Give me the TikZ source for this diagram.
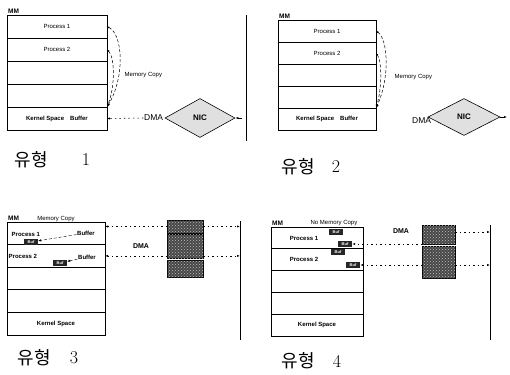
\documentclass[tikz,border=0pt]{standalone}
\usepackage{fontspec}
\setsansfont{Liberation Sans}
\newfontfamily\cjk{Noto Sans CJK KR}
\usetikzlibrary{arrows.meta,positioning,shapes.geometric,patterns}

\begin{document}
\begin{tikzpicture}[x=1pt,y=-1pt,
 row/.style 2 args={rectangle,draw,line width=0.7pt,outer sep=0pt,inner sep=0pt,minimum width=#1,minimum height=#2,font=\sffamily\fontsize{6}{7}\selectfont},
 lbl/.style={inner sep=0.5pt,font=\sffamily\fontsize{6}{7}\selectfont},
 blbl/.style={inner sep=0.5pt,font=\sffamily\bfseries\fontsize{6}{7}\selectfont},
 mmlbl/.style={inner sep=1pt,font=\sffamily\bfseries\fontsize{6.5}{7}\selectfont},
 dmal/.style={inner sep=0.5pt,font=\sffamily\fontsize{8.5}{9}\selectfont},
 nic/.style={diamond,draw,line width=0.6pt,fill=black!12,minimum width=70pt,minimum height=39pt,inner sep=0pt,font=\sffamily\bfseries\fontsize{8}{9}\selectfont},
 blk/.style={rectangle,draw=black,fill=black!72,postaction={pattern=crosshatch dots,pattern color=white!75!black},minimum width=36pt,inner sep=0pt,outer sep=0pt},
 buftag/.style={rectangle,fill=black!85,text=white,minimum width=14pt,minimum height=6pt,inner sep=0pt,font=\sffamily\bfseries\fontsize{4}{4.5}\selectfont},
 copyarr/.style={densely dashed,line width=0.5pt,{Latex[length=2.5pt]}-{Latex[length=3.5pt]}},
 dmaline/.style={dash pattern=on 1.5pt off 3pt,line width=0.6pt,-{Latex[length=3pt]}},
 arr/.style={-{Latex[length=3pt]},line width=0.6pt},
 divider/.style={line width=1pt},
 captxt/.style={inner sep=0pt,font=\cjk\fontsize{18}{19}\selectfont},
 capnum/.style={inner sep=0pt,font=\fontsize{18}{19}\selectfont}
]
\useasboundingbox (0,0) rectangle (510,374);

\node[row={100pt}{23pt},anchor=north west] (p1a) at (7,15) {Process 1};
\node[row={100pt}{23pt},below=0pt of p1a] (p1b) {Process 2};
\node[row={100pt}{23pt},below=0pt of p1b] (p1c) {};
\node[row={100pt}{23pt},below=0pt of p1c] (p1d) {};
\node[row={100pt}{23pt},below=0pt of p1d] (p1e) {\bfseries Kernel Space\hspace{6pt}Buffer};
\node[mmlbl,anchor=south west] (mm1) at (p1a.north west) {MM};
\node[lbl,anchor=west] (cp1) at (124,75) {Memory Copy};
\draw[copyarr] (p1a.east) .. controls +(16,8) and +(18,-30) .. (p1e.north east);
\draw[copyarr] (p1b.east) .. controls +(8,8) and +(8,-20) .. (p1e.north east);
\node[nic] (ni1) at (200,118) {NIC};
\node[dmal,anchor=east,xshift=-1pt] (dma1) at (ni1.west) {DMA};
\draw[dmaline] (dma1.west) -- (p1e.east);
\coordinate (in1) at (242,118);
\draw[arr] (in1) -- (ni1.east);
\coordinate (d1t) at (246,15); \coordinate (d1b) at (246,141);
\draw[divider] (d1t) -- (d1b);
\node[captxt] (t1) at (31,160) {유형};
\node[capnum] (n1) at (86,160) {1};

\node[row={98pt}{22pt},anchor=north west] (p2a) at (278,20) {Process 1};
\node[row={98pt}{22pt},below=0pt of p2a] (p2b) {Process 2};
\node[row={98pt}{22pt},below=0pt of p2b] (p2c) {};
\node[row={98pt}{22pt},below=0pt of p2c] (p2d) {};
\node[row={98pt}{22pt},below=0pt of p2d] (p2e) {\bfseries Kernel Space\hspace{6pt}Buffer};
\node[mmlbl,anchor=south west] (mm2) at (p2a.north west) {MM};
\node[lbl,anchor=west] (cp2) at (394,77) {Memory Copy};
\draw[copyarr] (p2a.east) .. controls +(12,8) and +(14,-30) .. (p2e.north east);
\draw[copyarr] (p2b.east) .. controls +(6,8) and +(6,-20) .. (p2e.north east);
\node[nic,minimum width=72pt,minimum height=37pt] (ni2) at (464,117) {NIC};
\node[dmal,anchor=east,xshift=4pt,yshift=-4pt] (dma2) at (ni2.west) {DMA};
\coordinate (out2) at (507,117);
\draw[arr] (ni2.east) -- (out2);
\node[captxt] (t2) at (298,167) {유형};
\node[capnum] (n2) at (336,167) {2};

\node[row={98pt}{22.6pt},anchor=north west] (p3a) at (7,222) {};
\node[row={98pt}{22.6pt},below=0pt of p3a] (p3b) {};
\node[row={98pt}{22.6pt},below=0pt of p3b] (p3c) {};
\node[row={98pt}{22.6pt},below=0pt of p3c] (p3d) {};
\node[row={98pt}{22.6pt},below=0pt of p3d] (p3e) {\bfseries Kernel Space};
\node[mmlbl,anchor=south west] (mm3) at (p3a.north west) {MM};
\node[lbl,anchor=south] (cp3) at (p3a.north) {Memory Copy};
\node[blbl,right=4pt of p3a.west,yshift=-1pt] (pl3a) {Process 1};
\node[blbl,right=1pt of p3b.west,yshift=-1pt] (pl3b) {Process 2};
\node[buftag] (b3a) at (31,242) {Buf};
\node[buftag] (b3b) at (60,263) {Buf};
\node[blbl] (bf3a) at (86,233) {Buffer};
\node[blbl] (bf3b) at (87,257) {Buffer};
\draw[arr,densely dashed,line width=0.4pt] (bf3a) -- (b3a);
\draw[arr,densely dashed,line width=0.4pt] (bf3b) -- (b3b);
\node[blk,minimum height=13pt,anchor=north west] (nic3a) at (167,220) {};
\node[blk,minimum height=24pt,below=1pt of nic3a] (nic3b) {};
\node[blk,minimum height=17pt,below=2pt of nic3b] (nic3c) {};
\node[blbl,font=\sffamily\bfseries\fontsize{7}{8}\selectfont] (dma3) at (141,246) {DMA};
\draw[dmaline] (nic3a.west) -- (nic3a.west -| p3a.east);
\draw[dmaline] (nic3b.west |- p3b.east) -- (p3b.east);
\coordinate (d3t) at (240,221); \coordinate (d3b) at (240,340);
\draw[divider] (d3t) -- (d3b);
\draw[dmaline] (nic3a.east) -- (nic3a.east -| d3t);
\draw[dmaline] (nic3b.east |- p3b.east) -- (p3b.east -| d3t);
\node[captxt] (t3) at (34,358) {유형};
\node[capnum] (n3) at (74,358) {3};

\node[row={92pt}{21.8pt},anchor=north west] (p4a) at (271,227) {};
\node[row={92pt}{21.8pt},below=0pt of p4a] (p4b) {};
\node[row={92pt}{21.8pt},below=0pt of p4b] (p4c) {};
\node[row={92pt}{21.8pt},below=0pt of p4c] (p4d) {};
\node[row={92pt}{21.8pt},below=0pt of p4d] (p4e) {\bfseries Kernel Space};
\node[mmlbl,anchor=south west] (mm4) at (p4a.north west) {MM};
\node[lbl,anchor=south] (cp4) at (334,226) {No Memory Copy};
\node[blbl] (pl4a) at (304,238) {Process 1};
\node[blbl] (pl4b) at (304,259) {Process 2};
\node[buftag] (b4a) at (336,232) {Buf};
\node[buftag] (b4b) at (345,244) {Buf};
\node[buftag] (b4c) at (338,252) {Buf};
\node[buftag] (b4d) at (353,265) {Buf};
\node[blk,minimum width=33pt,minimum height=19pt,anchor=north west] (nic4a) at (422,225) {};
\node[blk,minimum width=33pt,minimum height=32pt,below=2pt of nic4a] (nic4b) {};
\node[blbl,font=\sffamily\bfseries\fontsize{7}{8}\selectfont] (dma4) at (401,231) {DMA};
\draw[dmaline] (nic4a.west |- b4b) -- (b4b.east);
\draw[dmaline] (nic4b.west |- b4d) -- (b4d.east);
\coordinate (d4t) at (490,225); \coordinate (d4b) at (490,340);
\draw[divider] (d4t) -- (d4b);
\draw[dmaline] (nic4a.east |- b4a) -- (b4a -| d4t);
\draw[dmaline] (nic4b.east |- b4d) -- (b4d -| d4t);
\node[captxt] (t4) at (298,361) {유형};
\node[capnum] (n4) at (337,361) {4};
\end{tikzpicture}
\end{document}
